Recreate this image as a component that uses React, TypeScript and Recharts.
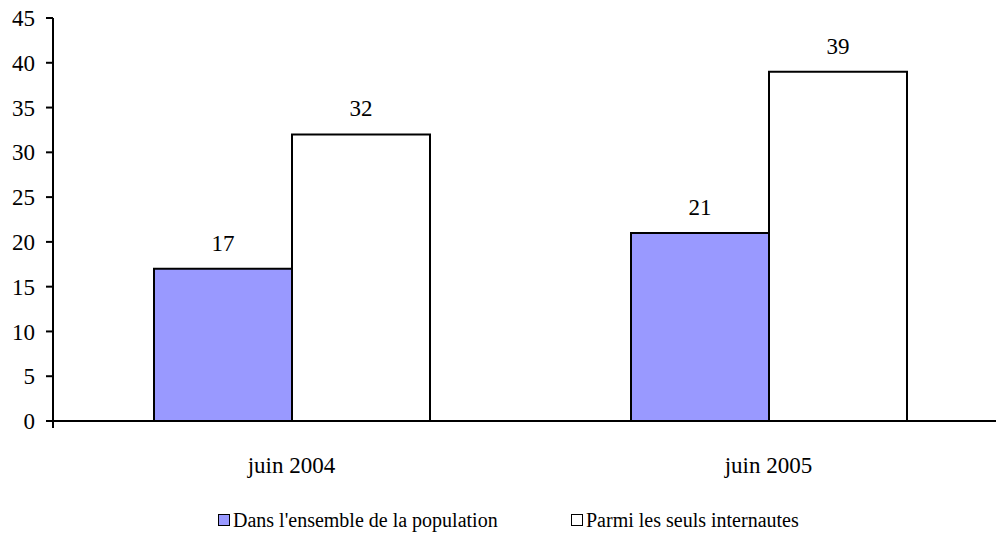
import React from "react";
import { BarChart, Bar, XAxis, YAxis, LabelList } from "recharts";

const categories = ["juin 2004", "juin 2005"];
const population = [17, 21];
const internautes = [32, 39];
const yTicks = [0, 5, 10, 15, 20, 25, 30, 35, 40, 45];
const boundaryTicks = [0, 1, 2];

const SERIES = [
    { key: "population", name: "Dans l'ensemble de la population", color: "#9999FF" },
    { key: "internautes", name: "Parmi les seuls internautes", color: "#FFFFFF" },
];

const FONT = "Liberation Serif";

const data = categories.map((c, i) => ({
    cat: c,
    population: population[i],
    internautes: internautes[i],
}));

export default function App() {
    return (
        <div style={{ position: "fixed", left: 0, top: 0, width: 996, height: 548, overflow: "hidden", background: "#fff", fontFamily: FONT }}>
            <BarChart
                width={1010}
                height={548}
                data={data}
                margin={{ top: 18, right: 3, bottom: 87, left: 0 }}
                barCategoryGap={101}
                barGap={0}
            >
                {/* boundary ticks between categories */}
                <XAxis
                    xAxisId="a"
                    type="number"
                    domain={[0, 2]}
                    ticks={boundaryTicks}
                    axisLine={{ stroke: "#000", strokeWidth: 2 }}
                    tickFormatter={() => ""}
                    tickLine={{ stroke: "#000", strokeWidth: 2 }}
                    tickSize={7}
                    height={8}
                />
                <XAxis
                    xAxisId="cat"
                    dataKey="cat"
                    tickLine={false}
                    axisLine={false}
                    tick={{ fill: "#000", fontSize: 23, fontFamily: FONT }}
                    tickMargin={22}
                    height={32}
                />
                <YAxis
                    domain={[0, 45]}
                    ticks={yTicks}
                    interval={0}
                    width={53}
                    axisLine={{ stroke: "#000", strokeWidth: 2 }}
                    tickLine={{ stroke: "#000", strokeWidth: 2 }}
                    tickSize={7}
                    tickMargin={11}
                    tick={{ fill: "#000", fontSize: 23, fontFamily: FONT }}
                />
                {SERIES.map(s => (
                    <Bar key={s.key} xAxisId="cat" dataKey={s.key} name={s.name} fill={s.color} stroke="#000" strokeWidth={2} isAnimationActive={false}>
                        <LabelList dataKey={s.key} position="top" offset={18} fill="#000" fontSize={23} fontFamily={FONT} />
                    </Bar>
                ))}
            </BarChart>

            {/* legend */}
            <div style={{ position: "absolute", top: 507, left: 218, display: "flex", fontSize: 20, color: "#000", lineHeight: "26px" }}>
                {SERIES.map((s, i) => (
                    <div key={s.key} style={{ display: "flex", alignItems: "center", width: i === 0 ? 353 : "auto" }}>
                        <span style={{ display: "inline-block", width: 10, height: 10, border: "1.5px solid #000", background: s.color, marginRight: 3 }} />
                        <span>{s.name}</span>
                    </div>
                ))}
            </div>
        </div>
    );
}
